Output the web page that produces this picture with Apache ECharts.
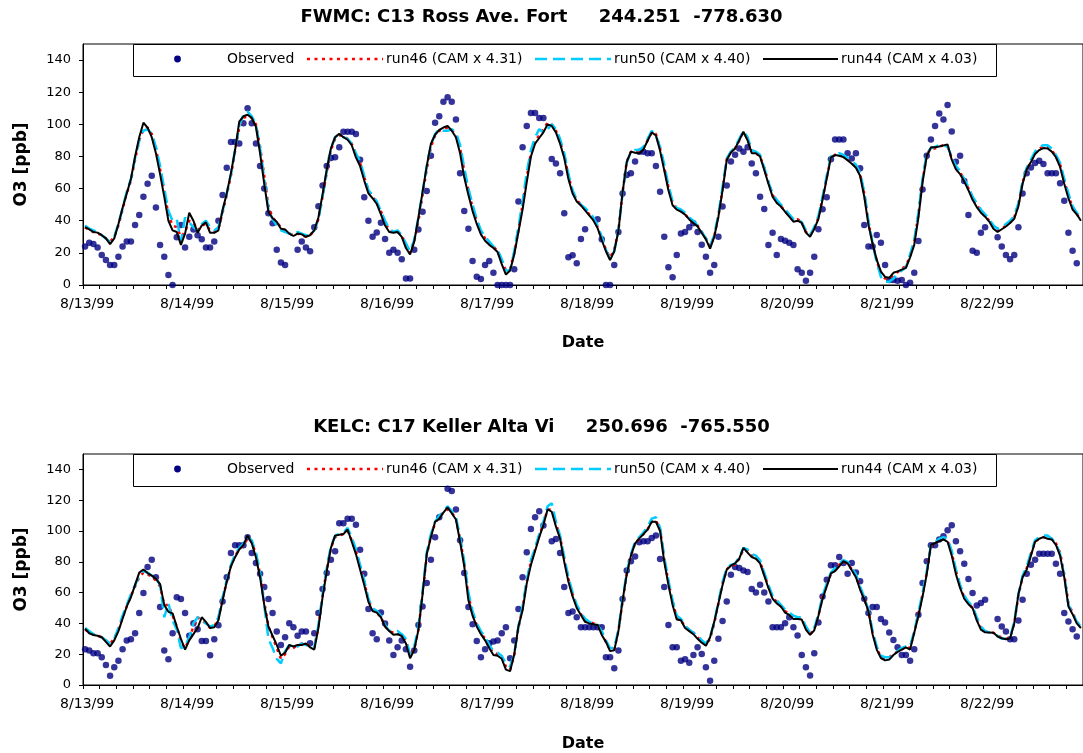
<!DOCTYPE html>
<html>
<head>
<meta charset="utf-8">
<script src="https://cdn.jsdelivr.net/npm/echarts@6/dist/echarts.min.js"></script>
<style>
html,body{margin:0;padding:0;background:#ffffff;}
#chart{width:1083px;height:753px;}
</style>
</head>
<body>
<div id="chart"></div>
<script>
// ---------------- DATA ----------------
const dates = ['8/13/99','8/14/99','8/15/99','8/16/99','8/17/99','8/18/99','8/19/99','8/20/99','8/21/99','8/22/99'];
const seriesNames = ['Observed','run46 (CAM x 4.31)','run50 (CAM x 4.40)','run44 (CAM x 4.03)'];
const titleTop = 'FWMC: C13 Ross Ave. Fort     244.251  -778.630';
const titleBottom = 'KELC: C17 Keller Alta Vi     250.696  -765.550';
const yMin = 0, yMax = 150, yStep = 20;

// FWMC (top panel), hourly values 8/13 00:00 .. 8/22 23:00
const fwmcObserved = [
 23.9,26.3,25.5,23.4,18.7,15.6,12.4,12.4,17.6,23.9,27,27,37.3,43.6,55,63,68,48.3,24.9,17.6,6.2,0,29.7,37.3,
 23.4,30,34.6,31,28.4,23.4,23.4,27,40,56,73,89,89,88,100.6,110,100.6,88,74,60,44.6,38.4,22,14,
 12.4,null,null,22,27,23.4,21,36,49,62,74,79,79.5,85.7,95.4,95.4,95.4,94,78,54.6,40,30,32.6,38.8,
 28.6,20,22,20,16,4,4,22,34.6,45.6,58.5,80.5,101,105,114,116.8,114,103,69.5,46,35,15,5.2,3.7,
 12.4,15,7.7,0,0,0,0,9.8,52,85.7,99,107,107,104,104,null,78.4,75.7,69.5,44.6,17.2,18.5,13.5,28.6,
 34.7,null,null,40.9,28.4,0,0,12.4,33,57,68.5,69.5,76.8,83,83,82,82,74,58,30,11,4.8,18.7,32,
 33,36,38.4,33,25,17.6,7.7,12.4,30,48.8,62,76.8,81,85,83,85.7,75.7,69.5,55,47.3,24.9,32.5,18.7,28.6,
 27.6,26.3,24.9,9.8,7.7,2.7,7.7,17.6,34.7,47.1,54.6,78.2,90.6,90.6,90.6,82,78.8,82,72.6,37.3,23.9,23.9,31.1,26.3,
 12.4,3.1,3.1,2.7,3.1,0,1.4,7.7,27.4,59.5,80.5,90.6,99,106.8,103,112,95.6,76.7,80.5,64.7,43.6,21.3,20,32.5,
 35.9,null,null,29.7,23.9,18.7,16,18.7,35.9,57,69.5,73.2,76,77.3,75.3,69.5,69.5,69.5,63.3,52.5,32.5,21.3,13.5,null
];
const fwmcRun46 = [
 36,34,33,32,31,29,27,30,37,47,57,65,78,90,97,98,94,85,72,58,44,37,36,30,
 33,40,39,34,37,38,34,33,35,45,56,68,83,98,104,105,104,100,86,68,49,42,39,36,
 34,32,31,32,31,30,31,34,41,55,70,84,91,93,93,91,88,81,76,67,59,55,51,46,
 39,34,33,33,31,25,20,27,40,56,72,86,93,96,97,98,97,93,85,71,59,48,40,33,
 29,26,24,21,15,9,10,20,34,50,67,82,90,93,97,101,100,96,89,81,68,58,53,50,
 47,44,41,36,29,22,17,22,34,58,77,83,83,83,85,90,95,94,85,73,61,51,47,46,
 44,41,39,37,33,29,24,30,43,60,78,83,85,90,95,91,83,82,80,73,64,56,52,49,
 46,43,40,41,39,33,31,35,42,54,67,79,81,81,80,78,76,74,69,57,39,26,15,7,
 4,4,6,8,10,12,18,27,44,65,81,85,85,86,87,86,79,73,70,66,60,54,50,46,
 43,40,36,34,35,37,39,42,50,64,72,77,82,85,86,86,84,80,75,65,56,48,44,41
];
const fwmcRun50 = [
 37,35,34,33,31,29,27,30,38,48,58,66,79,90,96,97,94,86,74,60,46,40,41,27,
 42,39,36,34,38,40,36,34,36,46,57,69,84,99,106,108,105,100,85,66,47,41,37,34,
 33,32,31,33,32,31,31,34,41,55,71,85,92,94,92,91,88,82,77,68,59,56,52,46,
 40,35,33,34,31,26,21,28,42,58,74,87,94,97,96,96,97,95,87,73,60,50,41,34,
 30,27,24,22,16,9,9,21,36,52,70,84,92,97,95,97,100,97,91,82,69,59,53,50,
 48,45,42,37,30,22,16,21,34,57,76,83,84,84,86,91,96,93,86,75,62,52,48,47,
 45,42,40,37,33,29,24,31,44,61,79,83,86,91,96,92,84,83,81,73,64,57,53,50,
 47,44,41,41,39,34,31,36,43,55,68,80,81,82,81,79,77,75,70,58,40,26,14,5,
 2,2,4,7,9,11,19,28,45,66,82,85,86,87,87,86,80,74,71,66,61,55,51,47,
 44,41,37,35,36,38,40,43,51,64,73,78,83,86,87,87,85,81,76,66,57,49,45,42
];
const fwmcRun44 = [
 36,34.6,33,32.6,31,29,25.5,29,38,48,57,66,80,92,101,98,92,82,69,55,40,34,33,25,
 32,45,40,32.5,37,39,32.5,32.5,34,46.7,57,69.5,84,101.7,105,106,104,98.5,82,63,45.6,41.5,39.4,35,
 34.6,32,30.5,32,31.5,30,31,34,42,56.6,71.8,85,92,94.2,92,90.4,87,79.4,74,65,57,54,50.5,44,
 37,33,32.5,33,30,23,19,27,42,58,74,88,93.5,96.5,98,99,96,92,82,67,56,46,38,31.5,
 27.5,25,23,20.5,13,6.5,9,19,33,47,64,80,88,91.5,95,100,99,95,88,79,66,57,52,49.5,
 46.4,43.3,40.2,35.4,28,21,15.5,21,33.6,57.7,76.6,83,82.3,82,84.4,89.8,95,93,83.5,71.4,59,49.6,46.9,45.7,
 43.8,40.8,38.6,36.5,32.4,28.4,22.6,30,42.5,59,77.8,82.5,85,90,95.4,90,82,82,80,71.6,63,55,51,48.8,
 45.6,42.5,39.4,40,38.6,32.6,30,34.8,41.1,53.2,66.2,79.4,80.9,80.4,79.6,77.6,75.5,73,68,55,37.6,25.6,15.6,8.3,
 5,4.5,7.6,8.5,9.6,10.7,17.2,25,42,64,80.2,85.7,85.8,86.2,86.9,87.5,78,72,69,64.5,59,53,48.5,45,
 42.5,39.5,35,33,34.7,36.4,38.6,41.2,49,63,72,76.5,81.5,84,85.2,85,83,79.5,73.5,63,54,47,44,40
];

// KELC (bottom panel)
const kelcObserved = [
 23.2,22.4,20.6,20.6,18,13,6,11.5,15.8,23.2,28.9,29.7,33.6,46.7,59.7,76.6,81.4,69.9,50.6,22.4,16.7,33.6,57,55.8,
 46.7,31.9,40.1,36.2,28.6,28.6,19.3,29.7,38.8,54.3,70,85.7,90.7,90.7,90.7,96,85.7,79.2,72.3,63.6,55.8,46.7,34.7,26,
 31,40.1,37.5,32,34.7,34.7,27.1,33.6,46.7,62.3,72.7,81.4,86.8,105,105,107.9,107.9,104,87.9,72.3,49.3,33.6,29.7,47,
 40,28.9,19.5,24.5,28.9,23.2,11.9,22.4,39,51,66.2,81.4,96,109,null,127.4,126,114,94,72.7,50.6,39.5,28.6,18,
 23.2,27.1,28.2,28.9,33.6,37.5,17.4,28.9,49.3,70,86.2,101.3,109,112.8,103.5,null,93.3,94.8,85.7,63.6,46.7,47.7,44,37.5,
 37.5,37.5,37.5,37.5,37.5,18,18,10.8,22.4,55.8,74.4,80.3,83.5,92.7,93.3,93.3,95.5,97,81.8,63.6,39,24.5,24.5,15.8,
 16.7,14.5,19.5,24.5,20.2,11.5,2.8,15.8,30,41.5,54.3,71.6,76.6,76,74.4,73.4,62.3,60.1,65.1,60.1,54.3,37.5,37.5,37.5,
 40.1,44,37.5,32.1,19.5,11.5,6.1,20.6,40.6,57.5,68.4,77.7,77.7,83.1,79.2,72.3,79.2,73.1,67.3,56,46.7,50.6,50.6,42.8,
 40.6,34.1,29.3,24.5,19.5,19.5,15.8,23.2,45.6,66.2,80.3,90.7,90.7,94.4,96.6,100.5,103.7,93.3,86.8,78.8,68.8,59.7,51.6,53.2,
 55.3,null,null,42.8,38,34.7,29.7,29.7,41.9,55.3,72.3,78.1,81.4,85.3,85.3,85.3,85.3,78.8,72.3,46.7,41.2,36.2,31.5,null
];
const kelcRun46 = [
 36,34,33,32,31,29,27,30,36,44,51,58,64,70,73,72,70,68,64,52,52,45,38,28,
 24,30,38,44,42,40,37,38,43,56,67,77,84,88,91,95,93,85,72,54,38,31,24,17,
 20,25,24,26,27,27,25,24,38,58,75,89,96,97,98,100,94,87,77,67,55,49,47,44,
 38,35,34,34,32,29,19,23,36,59,84,97,105,109,112,114,112,108,95,79,58,46,39,34,
 30,25,21,20,18,12,10,19,37,50,67,80,88,97,105,114,114,105,96,82,69,59,51,46,
 42,41,40,39,34,28,23,23,35,54,72,84,92,95,98,101,106,107,101,82,67,54,44,42,
 38,36,34,31,28,26,30,40,53,66,75,78,78,82,88,87,84,83,80,72,64,57,54,51,
 48,46,44,43,43,37,33,36,45,57,65,72,75,78,80,79,75,71,63,56,48,34,24,18,
 17,18,20,22,23,25,24,34,46,59,73,90,92,94,95,94,86,74,64,57,53,50,43,37,
 35,34,34,32,31,30,31,40,58,70,76,85,93,95,96,96,95,92,86,72,53,47,41,38
];
const kelcRun50 = [
 37,35,33,32,31,29,27,30,37,45,52,59,65,71,74,73,71,69,65,44,53,42,36,24,
 25,31,40,44,42,40,38,39,44,57,68,78,85,89,92,96,94,86,73,52,30,24,17,14,
 22,26,24,25,27,26,25,24,39,59,76,90,97,98,99,102,96,88,78,68,56,50,48,45,
 39,35,35,35,33,30,20,25,38,61,86,98,106,110,113,116,113,109,96,80,60,48,40,35,
 31,26,22,21,19,14,12,20,38,51,68,81,89,98,106,116,118,106,97,83,70,60,52,47,
 43,41,40,39,35,29,24,24,36,56,73,85,93,96,99,103,108,109,102,83,68,55,45,43,
 38,36,34,32,29,27,31,41,54,67,76,78,79,83,89,88,85,84,81,73,65,58,55,52,
 49,47,45,44,44,38,34,37,46,58,66,73,76,79,81,80,76,72,64,57,49,35,25,19,
 18,18,20,22,24,25,25,35,47,60,74,91,93,95,96,95,87,75,65,58,54,51,44,38,
 35,34,33,32,30,30,31,41,59,71,77,86,94,96,97,97,95,92,85,71,52,47,41,38
];
const kelcRun44 = [
 36.5,33.6,32.5,32,31,28,25,29,35,43,51,57,65,73,75,72.7,71,69,65.5,52,47.5,46.5,38,30,
 23,29,33,37,44,41,37,37.5,42,55,67,77,83,88,91,97,92,83,70,52,38,32,26,19,
 21,26,25,26,26,27,24.5,23,37,57,74,89,97,97.6,98,101,93,85,75,65,54,48,47,44,
 38,35,32.6,33,31.8,27,17.4,22.8,35.8,59,85,96,106,108,112,115.3,111.5,107.5,93,77,55,45,38,33,
 29,24,19.5,19,17,10,9,20,38,48.5,66,78,87,96,104,114,112.5,103,95,80,67,57.5,50,45.5,
 41,40,39.5,39,32.5,28,22,22.5,35,55,72,84,92,95,98,101,106,106,100,80,65,52,42.5,42,
 37,35,33,30,27.5,25.5,31,41,53,65,75,77.5,79,82,89,86,83,82,79,71,63,56,53,51,
 47,45.5,42.8,42.8,42.5,36,32.5,35.5,45,56,64,72.5,74,77,80.5,79,74.5,70,62,55.5,48,33,23,17.5,
 16,16.5,19.5,21.5,23,24.5,23,34,45,57.5,72,91,92.2,93.5,94.5,93,84,72,63,56,52.5,50,42,36,
 34.2,34.1,34,31.5,30.3,29.7,30.2,40,59,70,75,84,93,95,96,95,94.5,91,84,70,51,46,40,37
];

// ---------------- BUILD ----------------
const categories = [];
dates.forEach(function (d) {
  for (let h = 0; h < 24; h++) categories.push(d + ' ' + (h < 10 ? '0' : '') + h + ':00');
});

const FONT = 'DejaVu Sans';
const obsColor = '#000080';
const lineStyles = [
  null,
  { color: '#FF0000', width: 2.5, type: [3, 4.5], cap: 'butt' },
  { color: '#00CCFF', width: 2.5, type: [12, 6], cap: 'butt' },
  { color: '#000000', width: 2, type: 'solid' }
];
const panels = [
  { title: titleTop, titleTop: 8, gridTop: 44, gridHeight: 241,
    data: [fwmcObserved, fwmcRun46, fwmcRun50, fwmcRun44] },
  { title: titleBottom, titleTop: 418, gridTop: 454, gridHeight: 231,
    data: [kelcObserved, kelcRun46, kelcRun50, kelcRun44] }
];

// legend box layout (pixels): sample line x-ranges and text x positions
const legendBox = { left: 133, width: 863, height: 32, mid: 15 };
const legendItems = [
  { x0: 139, x1: 215, tx: 227 },
  { x0: 307, x1: 383, tx: 386 },
  { x0: 535, x1: 611, tx: 614 },
  { x0: 763, x1: 838, tx: 841 }
];

function legendGraphic(top) {
  const children = [{
    type: 'rect',
    shape: { x: legendBox.left + 0.5, y: top + 0.5, width: legendBox.width, height: legendBox.height },
    style: { fill: '#ffffff', stroke: '#000000', lineWidth: 1 }
  }];
  const cy = top + legendBox.mid;
  legendItems.forEach(function (it, k) {
    if (k === 0) {
      children.push({
        type: 'circle',
        shape: { cx: (it.x0 + it.x1) / 2 + 0.5, cy: cy, r: 3.4 },
        style: { fill: obsColor }
      });
    } else {
      const ls = lineStyles[k];
      children.push({
        type: 'line',
        shape: { x1: it.x0, y1: cy, x2: it.x1, y2: cy },
        style: {
          stroke: ls.color, lineWidth: ls.width,
          lineDash: Array.isArray(ls.type) ? ls.type : null, lineCap: 'butt'
        }
      });
    }
    children.push({
      type: 'text', x: it.tx, y: cy,
      style: {
        text: seriesNames[k], fill: '#000', font: '14px "DejaVu Sans"',
        textAlign: 'left', textVerticalAlign: 'middle', verticalAlign: 'middle'
      }
    });
  });
  return { type: 'group', z: 100, silent: true, children: children };
}

const option = {
  animation: false,
  backgroundColor: '#ffffff',
  title: [], grid: [], xAxis: [], yAxis: [], series: [], graphic: []
};

panels.forEach(function (p, i) {
  option.title.push({
    text: p.title, left: 'center', top: p.titleTop, padding: 0,
    textStyle: { fontFamily: FONT, fontWeight: 'bold', fontSize: 18, color: '#000' }
  });
  option.grid.push({
    left: 83, top: p.gridTop, width: 1004, height: p.gridHeight,
    show: true, borderColor: '#000', borderWidth: 1, backgroundColor: 'transparent'
  });
  option.xAxis.push({
    type: 'category', gridIndex: i, data: categories, boundaryGap: true,
    axisLine: { lineStyle: { color: '#000', width: 1 } },
    axisTick: { show: true, interval: 3, length: 4, lineStyle: { color: '#000' } },
    axisLabel: {
      interval: 23, color: '#000', fontFamily: FONT, fontSize: 14, margin: 12,
      padding: [0, 0, 0, 4],
      formatter: function (v) { return v.split(' ')[0]; }
    },
    splitLine: { show: false },
    name: 'Date', nameLocation: 'middle', nameGap: i === 0 ? 50 : 51,
    nameTextStyle: { fontFamily: FONT, fontWeight: 'bold', fontSize: 16, color: '#000' }
  });
  option.yAxis.push({
    type: 'value', gridIndex: i, min: yMin, max: yMax, interval: yStep,
    axisLine: { show: true, lineStyle: { color: '#000', width: 1 } },
    axisTick: { show: true, length: 4, lineStyle: { color: '#000' } },
    axisLabel: { showMaxLabel: false, color: '#000', fontFamily: FONT, fontSize: 13, margin: 12 },
    splitLine: { show: false },
    name: 'O3 [ppb]', nameLocation: 'middle', nameGap: 53, nameRotate: 90,
    nameTextStyle: { fontFamily: FONT, fontWeight: 'bold', fontSize: 17, color: '#000' }
  });
  option.graphic.push(legendGraphic(p.gridTop));
  option.series.push({
    name: seriesNames[0], type: 'scatter', xAxisIndex: i, yAxisIndex: i,
    data: p.data[0], symbol: 'circle', symbolSize: 6.5,
    itemStyle: { color: obsColor }
  });
  for (let k = 1; k <= 3; k++) {
    option.series.push({
      name: seriesNames[k], type: 'line', xAxisIndex: i, yAxisIndex: i,
      data: p.data[k], symbol: 'none', showSymbol: false,
      itemStyle: { color: lineStyles[k].color },
      lineStyle: lineStyles[k]
    });
  }
});

const chart = echarts.init(document.getElementById('chart'), null, { renderer: 'canvas' });
chart.setOption(option);
</script>
</body>
</html>
